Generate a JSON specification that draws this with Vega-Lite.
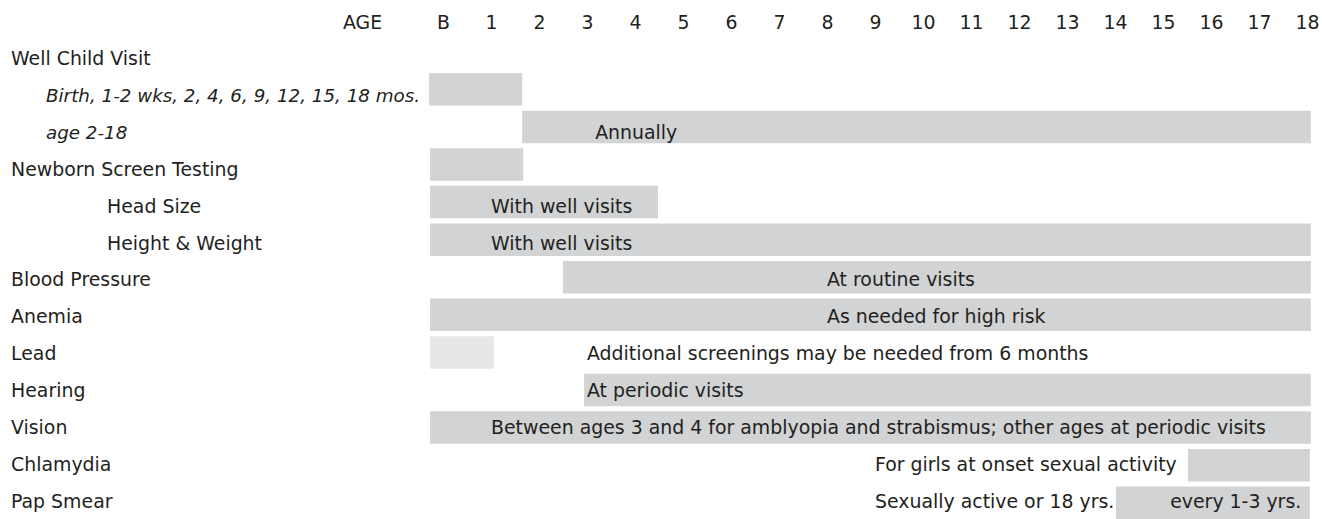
{
  "$schema": "https://vega.github.io/schema/vega-lite/v6.json",
  "width": 1322,
  "height": 519,
  "autosize": "none",
  "padding": 0,
  "background": "white",
  "config": {
    "view": {"stroke": null},
    "text": {"font": "DejaVu Sans", "fontSize": 18.9, "color": "#231f20"}
  },
  "datasets": {
    "rows": [
      {"row": "Well Child Visit", "level": 0},
      {"row": "Birth, 1-2 wks, 2, 4, 6, 9, 12, 15, 18 mos.", "level": 1},
      {"row": "age 2-18", "level": 1},
      {"row": "Newborn Screen Testing", "level": 0},
      {"row": "Head Size", "level": 2},
      {"row": "Height & Weight", "level": 2},
      {"row": "Blood Pressure", "level": 0},
      {"row": "Anemia", "level": 0},
      {"row": "Lead", "level": 0},
      {"row": "Hearing", "level": 0},
      {"row": "Vision", "level": 0},
      {"row": "Chlamydia", "level": 0},
      {"row": "Pap Smear", "level": 0}
    ],
    "bars": [
      {"row": "Birth, 1-2 wks, 2, 4, 6, 9, 12, 15, 18 mos.", "start": -0.29, "end": 1.65, "shade": "regular"},
      {"row": "age 2-18", "start": 1.65, "end": 18.08, "shade": "regular"},
      {"row": "Newborn Screen Testing", "start": -0.27, "end": 1.67, "shade": "regular"},
      {"row": "Head Size", "start": -0.27, "end": 4.48, "shade": "regular"},
      {"row": "Height & Weight", "start": -0.27, "end": 18.08, "shade": "regular"},
      {"row": "Blood Pressure", "start": 2.5, "end": 18.08, "shade": "regular"},
      {"row": "Anemia", "start": -0.27, "end": 18.08, "shade": "regular"},
      {"row": "Lead", "start": -0.27, "end": 1.06, "shade": "light"},
      {"row": "Hearing", "start": 2.94, "end": 18.08, "shade": "regular"},
      {"row": "Vision", "start": -0.27, "end": 18.08, "shade": "regular"},
      {"row": "Chlamydia", "start": 15.52, "end": 18.06, "shade": "regular"},
      {"row": "Pap Smear", "start": 14.02, "end": 18.06, "shade": "regular"}
    ],
    "notes": [
      {"row": "age 2-18", "at": 3.17, "note": "Annually"},
      {"row": "Head Size", "at": 1, "note": "With well visits"},
      {"row": "Height & Weight", "at": 1, "note": "With well visits"},
      {"row": "Blood Pressure", "at": 8, "note": "At routine visits"},
      {"row": "Anemia", "at": 8, "note": "As needed for high risk"},
      {"row": "Lead", "at": 3, "note": "Additional screenings may be needed from 6 months"},
      {"row": "Hearing", "at": 3, "note": "At periodic visits"},
      {"row": "Vision", "at": 1, "note": "Between ages 3 and 4 for amblyopia and strabismus; other ages at periodic visits"},
      {"row": "Chlamydia", "at": 9, "note": "For girls at onset sexual activity"},
      {"row": "Pap Smear", "at": 9, "note": "Sexually active or 18 yrs."},
      {"row": "Pap Smear", "at": 15.15, "note": "every 1-3 yrs."}
    ]
  },
  "layer": [
    {
      "data": {"name": "bars"},
      "mark": {"type": "bar"},
      "encoding": {
        "x": {
          "field": "start", "type": "quantitative",
          "scale": {"domain": [-9.229, 18.3125], "nice": false, "zero": false},
          "axis": {
            "orient": "top", "offset": -28,
            "values": [0,1,2,3,4,5,6,7,8,9,10,11,12,13,14,15,16,17,18],
            "labelExpr": "datum.value == 0 ? 'B' : datum.label",
            "domain": false, "ticks": false, "tickSize": 0, "grid": false,
            "labelPadding": 0, "labelBaseline": "alphabetic", "labelAlign": "center",
            "labelFont": "DejaVu Sans", "labelFontSize": 18.9, "labelColor": "#231f20",
            "labelFlush": false, "labelOverlap": false,
            "title": "AGE", "titleX": 362, "titleY": 0, "titleAlign": "center",
            "titleBaseline": "alphabetic", "titleAngle": 0,
            "titleFont": "DejaVu Sans", "titleFontSize": 18.9, "titleFontWeight": "normal",
            "titleColor": "#231f20"
          }
        },
        "x2": {"field": "end"},
        "y": {
          "field": "row", "type": "nominal", "sort": null,
          "scale": {
            "type": "band",
            "domain": ["Well Child Visit", "Birth, 1-2 wks, 2, 4, 6, 9, 12, 15, 18 mos.", "age 2-18", "Newborn Screen Testing", "Head Size", "Height & Weight", "Blood Pressure", "Anemia", "Lead", "Hearing", "Vision", "Chlamydia", "Pap Smear"],
            "range": [35.5, 519], "paddingInner": 0.136, "paddingOuter": 0
          },
          "axis": null
        },
        "color": {
          "field": "shade", "type": "nominal",
          "scale": {"domain": ["regular", "light"], "range": ["#d1d3d4", "#e6e7e8"]},
          "legend": null
        }
      }
    },
    {
      "data": {"name": "rows"},
      "transform": [{"filter": "datum.level != 1"}],
      "mark": {"type": "text", "align": "left", "baseline": "alphabetic"},
      "encoding": {
        "x": {
          "field": "level", "type": "quantitative",
          "scale": {"domain": [0, 1, 2], "range": [11, 46, 107], "nice": false, "zero": false},
          "axis": null
        },
        "y": {
          "field": "row", "type": "nominal", "sort": null,
          "scale": {
            "type": "point",
            "domain": ["Well Child Visit", "Birth, 1-2 wks, 2, 4, 6, 9, 12, 15, 18 mos.", "age 2-18", "Newborn Screen Testing", "Head Size", "Height & Weight", "Blood Pressure", "Anemia", "Lead", "Hearing", "Vision", "Chlamydia", "Pap Smear"],
            "range": [65, 507.8], "padding": 0
          },
          "axis": null
        },
        "text": {"field": "row"}
      }
    },
    {
      "data": {"name": "rows"},
      "transform": [{"filter": "datum.level == 1"}],
      "mark": {"type": "text", "align": "left", "baseline": "alphabetic", "fontStyle": "italic", "fontSize": 18.3},
      "encoding": {
        "x": {
          "field": "level", "type": "quantitative",
          "scale": {"domain": [0, 1, 2], "range": [11, 46, 107], "nice": false, "zero": false},
          "axis": null
        },
        "y": {
          "field": "row", "type": "nominal", "sort": null,
          "scale": {
            "type": "point",
            "domain": ["Well Child Visit", "Birth, 1-2 wks, 2, 4, 6, 9, 12, 15, 18 mos.", "age 2-18", "Newborn Screen Testing", "Head Size", "Height & Weight", "Blood Pressure", "Anemia", "Lead", "Hearing", "Vision", "Chlamydia", "Pap Smear"],
            "range": [65, 507.8], "padding": 0
          },
          "axis": null
        },
        "text": {"field": "row"}
      }
    },
    {
      "data": {"name": "notes"},
      "mark": {"type": "text", "align": "left", "baseline": "alphabetic"},
      "encoding": {
        "x": {
          "field": "at", "type": "quantitative",
          "scale": {"domain": [-9.229, 18.3125], "nice": false, "zero": false},
          "axis": null
        },
        "y": {
          "field": "row", "type": "nominal", "sort": null,
          "scale": {
            "type": "point",
            "domain": ["Well Child Visit", "Birth, 1-2 wks, 2, 4, 6, 9, 12, 15, 18 mos.", "age 2-18", "Newborn Screen Testing", "Head Size", "Height & Weight", "Blood Pressure", "Anemia", "Lead", "Hearing", "Vision", "Chlamydia", "Pap Smear"],
            "range": [65, 507.8], "padding": 0
          },
          "axis": null
        },
        "text": {"field": "note"}
      }
    }
  ],
  "resolve": {"scale": {"x": "independent", "y": "independent", "color": "independent"}}
}
